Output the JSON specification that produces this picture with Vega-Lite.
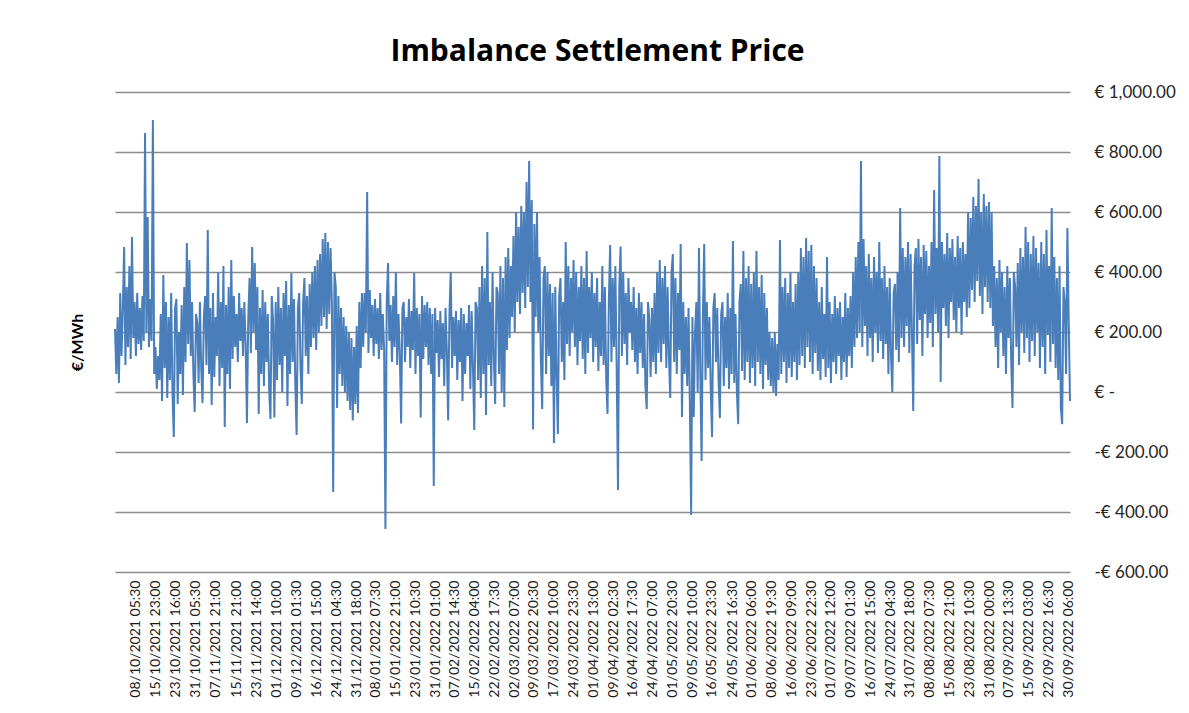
{
"$schema":"https://vega.github.io/schema/vega-lite/v6.json",
"width":955,"height":480,
"autosize":{"type":"none"},
"padding":{"left":115,"top":92,"right":119,"bottom":141},
"background":"white",
"title":{"text":"Imbalance Settlement Price","font":"Open Sans","fontSize":30,"fontWeight":"bold","color":"#000000","anchor":"middle","offset":16,"dx":5},
"config":{"view":{"stroke":null}},
"data":{"values":[
{"t":"2021-09-30T12:00","v":210},
{"t":"2021-10-01T00:00","v":60},{"t":"2021-10-01T12:00","v":250},
{"t":"2021-10-02T00:00","v":30},{"t":"2021-10-02T12:00","v":330},
{"t":"2021-10-03T00:00","v":120},{"t":"2021-10-03T12:00","v":280},
{"t":"2021-10-04T00:00","v":483},{"t":"2021-10-04T12:00","v":90},
{"t":"2021-10-05T00:00","v":350},{"t":"2021-10-05T12:00","v":150},
{"t":"2021-10-06T00:00","v":420},{"t":"2021-10-06T12:00","v":110},
{"t":"2021-10-07T00:00","v":517},{"t":"2021-10-07T12:00","v":180},
{"t":"2021-10-08T00:00","v":300},{"t":"2021-10-08T12:00","v":120},
{"t":"2021-10-09T00:00","v":330},{"t":"2021-10-09T12:00","v":160},
{"t":"2021-10-10T00:00","v":280},{"t":"2021-10-10T12:00","v":140},
{"t":"2021-10-11T00:00","v":320},{"t":"2021-10-11T12:00","v":170},
{"t":"2021-10-12T00:00","v":863},{"t":"2021-10-12T12:00","v":200},
{"t":"2021-10-13T00:00","v":583},{"t":"2021-10-13T12:00","v":150},
{"t":"2021-10-14T00:00","v":310},{"t":"2021-10-14T12:00","v":170},
{"t":"2021-10-15T00:00","v":907},{"t":"2021-10-15T12:00","v":60},
{"t":"2021-10-16T00:00","v":150},{"t":"2021-10-16T12:00","v":10},
{"t":"2021-10-17T00:00","v":120},{"t":"2021-10-17T12:00","v":40},
{"t":"2021-10-18T00:00","v":260},{"t":"2021-10-18T12:00","v":-30},
{"t":"2021-10-19T00:00","v":390},{"t":"2021-10-19T12:00","v":80},
{"t":"2021-10-20T00:00","v":300},{"t":"2021-10-20T12:00","v":-20},
{"t":"2021-10-21T00:00","v":250},{"t":"2021-10-21T12:00","v":40},
{"t":"2021-10-22T00:00","v":330},{"t":"2021-10-22T12:00","v":0},
{"t":"2021-10-23T00:00","v":-150},{"t":"2021-10-23T12:00","v":280},
{"t":"2021-10-24T00:00","v":310},{"t":"2021-10-24T12:00","v":-40},
{"t":"2021-10-25T00:00","v":200},{"t":"2021-10-25T12:00","v":60},
{"t":"2021-10-26T00:00","v":290},{"t":"2021-10-26T12:00","v":-10},
{"t":"2021-10-27T00:00","v":350},{"t":"2021-10-27T12:00","v":100},
{"t":"2021-10-28T00:00","v":497},{"t":"2021-10-28T12:00","v":160},
{"t":"2021-10-29T00:00","v":440},{"t":"2021-10-29T12:00","v":120},
{"t":"2021-10-30T00:00","v":300},{"t":"2021-10-30T12:00","v":60},
{"t":"2021-10-31T00:00","v":-67},{"t":"2021-10-31T12:00","v":260},
{"t":"2021-11-01T00:00","v":230},{"t":"2021-11-01T12:00","v":30},
{"t":"2021-11-02T00:00","v":300},{"t":"2021-11-02T12:00","v":80},
{"t":"2021-11-03T00:00","v":-37},{"t":"2021-11-03T12:00","v":250},
{"t":"2021-11-04T00:00","v":320},{"t":"2021-11-04T12:00","v":90},
{"t":"2021-11-05T00:00","v":540},{"t":"2021-11-05T12:00","v":60},
{"t":"2021-11-06T00:00","v":280},{"t":"2021-11-06T12:00","v":-43},
{"t":"2021-11-07T00:00","v":330},{"t":"2021-11-07T12:00","v":50},
{"t":"2021-11-08T00:00","v":250},{"t":"2021-11-08T12:00","v":120},
{"t":"2021-11-09T00:00","v":400},{"t":"2021-11-09T12:00","v":20},
{"t":"2021-11-10T00:00","v":300},{"t":"2021-11-10T12:00","v":80},
{"t":"2021-11-11T00:00","v":420},{"t":"2021-11-11T12:00","v":-117},
{"t":"2021-11-12T00:00","v":290},{"t":"2021-11-12T12:00","v":60},
{"t":"2021-11-13T00:00","v":350},{"t":"2021-11-13T12:00","v":10},
{"t":"2021-11-14T00:00","v":440},{"t":"2021-11-14T12:00","v":110},
{"t":"2021-11-15T00:00","v":320},{"t":"2021-11-15T12:00","v":150},
{"t":"2021-11-16T00:00","v":260},{"t":"2021-11-16T12:00","v":100},
{"t":"2021-11-17T00:00","v":330},{"t":"2021-11-17T12:00","v":170},
{"t":"2021-11-18T00:00","v":280},{"t":"2021-11-18T12:00","v":120},
{"t":"2021-11-19T00:00","v":300},{"t":"2021-11-19T12:00","v":160},
{"t":"2021-11-20T00:00","v":-103},{"t":"2021-11-20T12:00","v":250},
{"t":"2021-11-21T00:00","v":380},{"t":"2021-11-21T12:00","v":130},
{"t":"2021-11-22T00:00","v":483},{"t":"2021-11-22T12:00","v":200},
{"t":"2021-11-23T00:00","v":430},{"t":"2021-11-23T12:00","v":140},
{"t":"2021-11-24T00:00","v":350},{"t":"2021-11-24T12:00","v":-73},
{"t":"2021-11-25T00:00","v":280},{"t":"2021-11-25T12:00","v":60},
{"t":"2021-11-26T00:00","v":340},{"t":"2021-11-26T12:00","v":20},
{"t":"2021-11-27T00:00","v":300},{"t":"2021-11-27T12:00","v":100},
{"t":"2021-11-28T00:00","v":260},{"t":"2021-11-28T12:00","v":10},
{"t":"2021-11-29T00:00","v":-90},{"t":"2021-11-29T12:00","v":320},
{"t":"2021-11-30T00:00","v":240},{"t":"2021-11-30T12:00","v":-85},
{"t":"2021-12-01T00:00","v":300},{"t":"2021-12-01T12:00","v":40},
{"t":"2021-12-02T00:00","v":350},{"t":"2021-12-02T12:00","v":90},
{"t":"2021-12-03T00:00","v":280},{"t":"2021-12-03T12:00","v":0},
{"t":"2021-12-04T00:00","v":330},{"t":"2021-12-04T12:00","v":120},
{"t":"2021-12-05T00:00","v":370},{"t":"2021-12-05T12:00","v":-47},
{"t":"2021-12-06T00:00","v":290},{"t":"2021-12-06T12:00","v":60},
{"t":"2021-12-07T00:00","v":397},{"t":"2021-12-07T12:00","v":100},
{"t":"2021-12-08T00:00","v":310},{"t":"2021-12-08T12:00","v":30},
{"t":"2021-12-09T00:00","v":-143},{"t":"2021-12-09T12:00","v":280},
{"t":"2021-12-10T00:00","v":330},{"t":"2021-12-10T12:00","v":80},
{"t":"2021-12-11T00:00","v":-40},{"t":"2021-12-11T12:00","v":300},
{"t":"2021-12-12T00:00","v":380},{"t":"2021-12-12T12:00","v":120},
{"t":"2021-12-13T00:00","v":320},{"t":"2021-12-13T12:00","v":60},
{"t":"2021-12-14T00:00","v":360},{"t":"2021-12-14T12:00","v":150},
{"t":"2021-12-15T00:00","v":400},{"t":"2021-12-15T12:00","v":180},
{"t":"2021-12-16T00:00","v":420},{"t":"2021-12-16T12:00","v":140},
{"t":"2021-12-17T00:00","v":440},{"t":"2021-12-17T12:00","v":200},
{"t":"2021-12-18T00:00","v":460},{"t":"2021-12-18T12:00","v":220},
{"t":"2021-12-19T00:00","v":510},{"t":"2021-12-19T12:00","v":250},
{"t":"2021-12-20T00:00","v":530},{"t":"2021-12-20T12:00","v":210},
{"t":"2021-12-21T00:00","v":500},{"t":"2021-12-21T12:00","v":260},
{"t":"2021-12-22T00:00","v":480},{"t":"2021-12-22T12:00","v":300},
{"t":"2021-12-23T00:00","v":-333},{"t":"2021-12-23T12:00","v":400},
{"t":"2021-12-24T00:00","v":350},{"t":"2021-12-24T12:00","v":-53},
{"t":"2021-12-25T00:00","v":320},{"t":"2021-12-25T12:00","v":60},
{"t":"2021-12-26T00:00","v":280},{"t":"2021-12-26T12:00","v":20},
{"t":"2021-12-27T00:00","v":250},{"t":"2021-12-27T12:00","v":0},
{"t":"2021-12-28T00:00","v":220},{"t":"2021-12-28T12:00","v":-30},
{"t":"2021-12-29T00:00","v":200},{"t":"2021-12-29T12:00","v":-60},
{"t":"2021-12-30T00:00","v":180},{"t":"2021-12-30T12:00","v":-95},
{"t":"2021-12-31T00:00","v":150},{"t":"2021-12-31T12:00","v":-40},
{"t":"2022-01-01T00:00","v":220},{"t":"2022-01-01T12:00","v":-70},
{"t":"2022-01-02T00:00","v":300},{"t":"2022-01-02T12:00","v":80},
{"t":"2022-01-03T00:00","v":330},{"t":"2022-01-03T12:00","v":150},
{"t":"2022-01-04T00:00","v":330},{"t":"2022-01-04T12:00","v":200},
{"t":"2022-01-05T00:00","v":667},{"t":"2022-01-05T12:00","v":130},
{"t":"2022-01-06T00:00","v":340},{"t":"2022-01-06T12:00","v":180},
{"t":"2022-01-07T00:00","v":290},{"t":"2022-01-07T12:00","v":120},
{"t":"2022-01-08T00:00","v":310},{"t":"2022-01-08T12:00","v":160},
{"t":"2022-01-09T00:00","v":280},{"t":"2022-01-09T12:00","v":110},
{"t":"2022-01-10T00:00","v":330},{"t":"2022-01-10T12:00","v":140},
{"t":"2022-01-11T00:00","v":260},{"t":"2022-01-11T12:00","v":140},
{"t":"2022-01-12T00:00","v":-457},{"t":"2022-01-12T12:00","v":300},
{"t":"2022-01-13T00:00","v":430},{"t":"2022-01-13T12:00","v":170},
{"t":"2022-01-14T00:00","v":290},{"t":"2022-01-14T12:00","v":100},
{"t":"2022-01-15T00:00","v":320},{"t":"2022-01-15T12:00","v":150},
{"t":"2022-01-16T00:00","v":400},{"t":"2022-01-16T12:00","v":90},
{"t":"2022-01-17T00:00","v":260},{"t":"2022-01-17T12:00","v":130},
{"t":"2022-01-18T00:00","v":-105},{"t":"2022-01-18T12:00","v":280},
{"t":"2022-01-19T00:00","v":300},{"t":"2022-01-19T12:00","v":100},
{"t":"2022-01-20T00:00","v":250},{"t":"2022-01-20T12:00","v":150},
{"t":"2022-01-21T00:00","v":310},{"t":"2022-01-21T12:00","v":80},
{"t":"2022-01-22T00:00","v":270},{"t":"2022-01-22T12:00","v":140},
{"t":"2022-01-23T00:00","v":397},{"t":"2022-01-23T12:00","v":60},
{"t":"2022-01-24T00:00","v":280},{"t":"2022-01-24T12:00","v":120},
{"t":"2022-01-25T00:00","v":260},{"t":"2022-01-25T12:00","v":-85},
{"t":"2022-01-26T00:00","v":320},{"t":"2022-01-26T12:00","v":110},
{"t":"2022-01-27T00:00","v":290},{"t":"2022-01-27T12:00","v":150},
{"t":"2022-01-28T00:00","v":300},{"t":"2022-01-28T12:00","v":90},
{"t":"2022-01-29T00:00","v":280},{"t":"2022-01-29T12:00","v":60},
{"t":"2022-01-30T00:00","v":260},{"t":"2022-01-30T12:00","v":-313},
{"t":"2022-01-31T00:00","v":280},{"t":"2022-01-31T12:00","v":130},
{"t":"2022-02-01T00:00","v":240},{"t":"2022-02-01T12:00","v":50},
{"t":"2022-02-02T00:00","v":270},{"t":"2022-02-02T12:00","v":110},
{"t":"2022-02-03T00:00","v":230},{"t":"2022-02-03T12:00","v":20},
{"t":"2022-02-04T00:00","v":280},{"t":"2022-02-04T12:00","v":140},
{"t":"2022-02-05T00:00","v":-95},{"t":"2022-02-05T12:00","v":260},
{"t":"2022-02-06T00:00","v":400},{"t":"2022-02-06T12:00","v":80},
{"t":"2022-02-07T00:00","v":250},{"t":"2022-02-07T12:00","v":120},
{"t":"2022-02-08T00:00","v":270},{"t":"2022-02-08T12:00","v":40},
{"t":"2022-02-09T00:00","v":240},{"t":"2022-02-09T12:00","v":100},
{"t":"2022-02-10T00:00","v":280},{"t":"2022-02-10T12:00","v":-30},
{"t":"2022-02-11T00:00","v":260},{"t":"2022-02-11T12:00","v":60},
{"t":"2022-02-12T00:00","v":230},{"t":"2022-02-12T12:00","v":120},
{"t":"2022-02-13T00:00","v":290},{"t":"2022-02-13T12:00","v":10},
{"t":"2022-02-14T00:00","v":270},{"t":"2022-02-14T12:00","v":80},
{"t":"2022-02-15T00:00","v":-127},{"t":"2022-02-15T12:00","v":300},
{"t":"2022-02-16T00:00","v":280},{"t":"2022-02-16T12:00","v":40},
{"t":"2022-02-17T00:00","v":350},{"t":"2022-02-17T12:00","v":-20},
{"t":"2022-02-18T00:00","v":420},{"t":"2022-02-18T12:00","v":60},
{"t":"2022-02-19T00:00","v":380},{"t":"2022-02-19T12:00","v":-77},
{"t":"2022-02-20T00:00","v":533},{"t":"2022-02-20T12:00","v":90},
{"t":"2022-02-21T00:00","v":300},{"t":"2022-02-21T12:00","v":20},
{"t":"2022-02-22T00:00","v":400},{"t":"2022-02-22T12:00","v":110},
{"t":"2022-02-23T00:00","v":-40},{"t":"2022-02-23T12:00","v":350},
{"t":"2022-02-24T00:00","v":330},{"t":"2022-02-24T12:00","v":60},
{"t":"2022-02-25T00:00","v":420},{"t":"2022-02-25T12:00","v":0},
{"t":"2022-02-26T00:00","v":380},{"t":"2022-02-26T12:00","v":-50},
{"t":"2022-02-27T00:00","v":450},{"t":"2022-02-27T12:00","v":140},
{"t":"2022-02-28T00:00","v":480},{"t":"2022-02-28T12:00","v":180},
{"t":"2022-03-01T00:00","v":420},{"t":"2022-03-01T12:00","v":250},
{"t":"2022-03-02T00:00","v":520},{"t":"2022-03-02T12:00","v":200},
{"t":"2022-03-03T00:00","v":600},{"t":"2022-03-03T12:00","v":300},
{"t":"2022-03-04T00:00","v":550},{"t":"2022-03-04T12:00","v":260},
{"t":"2022-03-05T00:00","v":620},{"t":"2022-03-05T12:00","v":330},
{"t":"2022-03-06T00:00","v":600},{"t":"2022-03-06T12:00","v":280},
{"t":"2022-03-07T00:00","v":700},{"t":"2022-03-07T12:00","v":350},
{"t":"2022-03-08T00:00","v":770},{"t":"2022-03-08T12:00","v":300},
{"t":"2022-03-09T00:00","v":640},{"t":"2022-03-09T12:00","v":-125},
{"t":"2022-03-10T00:00","v":560},{"t":"2022-03-10T12:00","v":250},
{"t":"2022-03-11T00:00","v":600},{"t":"2022-03-11T12:00","v":200},
{"t":"2022-03-12T00:00","v":450},{"t":"2022-03-12T12:00","v":100},
{"t":"2022-03-13T00:00","v":-57},{"t":"2022-03-13T12:00","v":380},
{"t":"2022-03-14T00:00","v":420},{"t":"2022-03-14T12:00","v":60},
{"t":"2022-03-15T00:00","v":400},{"t":"2022-03-15T12:00","v":120},
{"t":"2022-03-16T00:00","v":360},{"t":"2022-03-16T12:00","v":20},
{"t":"2022-03-17T00:00","v":330},{"t":"2022-03-17T12:00","v":-170},
{"t":"2022-03-18T00:00","v":350},{"t":"2022-03-18T12:00","v":60},
{"t":"2022-03-19T00:00","v":-140},{"t":"2022-03-19T12:00","v":320},
{"t":"2022-03-20T00:00","v":380},{"t":"2022-03-20T12:00","v":100},
{"t":"2022-03-21T00:00","v":300},{"t":"2022-03-21T12:00","v":40},
{"t":"2022-03-22T00:00","v":500},{"t":"2022-03-22T12:00","v":160},
{"t":"2022-03-23T00:00","v":420},{"t":"2022-03-23T12:00","v":120},
{"t":"2022-03-24T00:00","v":380},{"t":"2022-03-24T12:00","v":200},
{"t":"2022-03-25T00:00","v":440},{"t":"2022-03-25T12:00","v":150},
{"t":"2022-03-26T00:00","v":400},{"t":"2022-03-26T12:00","v":90},
{"t":"2022-03-27T00:00","v":350},{"t":"2022-03-27T12:00","v":170},
{"t":"2022-03-28T00:00","v":420},{"t":"2022-03-28T12:00","v":110},
{"t":"2022-03-29T00:00","v":380},{"t":"2022-03-29T12:00","v":60},
{"t":"2022-03-30T00:00","v":470},{"t":"2022-03-30T12:00","v":130},
{"t":"2022-03-31T00:00","v":350},{"t":"2022-03-31T12:00","v":180},
{"t":"2022-04-01T00:00","v":400},{"t":"2022-04-01T12:00","v":100},
{"t":"2022-04-02T00:00","v":330},{"t":"2022-04-02T12:00","v":150},
{"t":"2022-04-03T00:00","v":380},{"t":"2022-04-03T12:00","v":70},
{"t":"2022-04-04T00:00","v":300},{"t":"2022-04-04T12:00","v":120},
{"t":"2022-04-05T00:00","v":420},{"t":"2022-04-05T12:00","v":90},
{"t":"2022-04-06T00:00","v":350},{"t":"2022-04-06T12:00","v":40},
{"t":"2022-04-07T00:00","v":-73},{"t":"2022-04-07T12:00","v":300},
{"t":"2022-04-08T00:00","v":490},{"t":"2022-04-08T12:00","v":100},
{"t":"2022-04-09T00:00","v":380},{"t":"2022-04-09T12:00","v":150},
{"t":"2022-04-10T00:00","v":420},{"t":"2022-04-10T12:00","v":80},
{"t":"2022-04-11T00:00","v":-327},{"t":"2022-04-11T12:00","v":350},
{"t":"2022-04-12T00:00","v":485},{"t":"2022-04-12T12:00","v":120},
{"t":"2022-04-13T00:00","v":400},{"t":"2022-04-13T12:00","v":160},
{"t":"2022-04-14T00:00","v":330},{"t":"2022-04-14T12:00","v":90},
{"t":"2022-04-15T00:00","v":380},{"t":"2022-04-15T12:00","v":200},
{"t":"2022-04-16T00:00","v":300},{"t":"2022-04-16T12:00","v":140},
{"t":"2022-04-17T00:00","v":350},{"t":"2022-04-17T12:00","v":100},
{"t":"2022-04-18T00:00","v":280},{"t":"2022-04-18T12:00","v":60},
{"t":"2022-04-19T00:00","v":330},{"t":"2022-04-19T12:00","v":130},
{"t":"2022-04-20T00:00","v":300},{"t":"2022-04-20T12:00","v":80},
{"t":"2022-04-21T00:00","v":260},{"t":"2022-04-21T12:00","v":20},
{"t":"2022-04-22T00:00","v":-57},{"t":"2022-04-22T12:00","v":300},
{"t":"2022-04-23T00:00","v":240},{"t":"2022-04-23T12:00","v":50},
{"t":"2022-04-24T00:00","v":280},{"t":"2022-04-24T12:00","v":100},
{"t":"2022-04-25T00:00","v":330},{"t":"2022-04-25T12:00","v":60},
{"t":"2022-04-26T00:00","v":400},{"t":"2022-04-26T12:00","v":130},
{"t":"2022-04-27T00:00","v":440},{"t":"2022-04-27T12:00","v":100},
{"t":"2022-04-28T00:00","v":380},{"t":"2022-04-28T12:00","v":160},
{"t":"2022-04-29T00:00","v":420},{"t":"2022-04-29T12:00","v":80},
{"t":"2022-04-30T00:00","v":350},{"t":"2022-04-30T12:00","v":120},
{"t":"2022-05-01T00:00","v":-20},{"t":"2022-05-01T12:00","v":400},
{"t":"2022-05-02T00:00","v":460},{"t":"2022-05-02T12:00","v":100},
{"t":"2022-05-03T00:00","v":380},{"t":"2022-05-03T12:00","v":60},
{"t":"2022-05-04T00:00","v":330},{"t":"2022-05-04T12:00","v":140},
{"t":"2022-05-05T00:00","v":493},{"t":"2022-05-05T12:00","v":-83},
{"t":"2022-05-06T00:00","v":300},{"t":"2022-05-06T12:00","v":60},
{"t":"2022-05-07T00:00","v":250},{"t":"2022-05-07T12:00","v":20},
{"t":"2022-05-08T00:00","v":280},{"t":"2022-05-08T12:00","v":-30},
{"t":"2022-05-09T00:00","v":-410},{"t":"2022-05-09T12:00","v":250},
{"t":"2022-05-10T00:00","v":-83},{"t":"2022-05-10T12:00","v":200},
{"t":"2022-05-11T00:00","v":300},{"t":"2022-05-11T12:00","v":0},
{"t":"2022-05-12T00:00","v":480},{"t":"2022-05-12T12:00","v":60},
{"t":"2022-05-13T00:00","v":-230},{"t":"2022-05-13T12:00","v":260},
{"t":"2022-05-14T00:00","v":493},{"t":"2022-05-14T12:00","v":40},
{"t":"2022-05-15T00:00","v":300},{"t":"2022-05-15T12:00","v":80},
{"t":"2022-05-16T00:00","v":250},{"t":"2022-05-16T12:00","v":10},
{"t":"2022-05-17T00:00","v":-150},{"t":"2022-05-17T12:00","v":280},
{"t":"2022-05-18T00:00","v":330},{"t":"2022-05-18T12:00","v":100},
{"t":"2022-05-19T00:00","v":280},{"t":"2022-05-19T12:00","v":40},
{"t":"2022-05-20T00:00","v":-87},{"t":"2022-05-20T12:00","v":260},
{"t":"2022-05-21T00:00","v":300},{"t":"2022-05-21T12:00","v":20},
{"t":"2022-05-22T00:00","v":250},{"t":"2022-05-22T12:00","v":80},
{"t":"2022-05-23T00:00","v":330},{"t":"2022-05-23T12:00","v":10},
{"t":"2022-05-24T00:00","v":280},{"t":"2022-05-24T12:00","v":60},
{"t":"2022-05-25T00:00","v":503},{"t":"2022-05-25T12:00","v":30},
{"t":"2022-05-26T00:00","v":260},{"t":"2022-05-26T12:00","v":0},
{"t":"2022-05-27T00:00","v":-107},{"t":"2022-05-27T12:00","v":300},
{"t":"2022-05-28T00:00","v":360},{"t":"2022-05-28T12:00","v":70},
{"t":"2022-05-29T00:00","v":470},{"t":"2022-05-29T12:00","v":40},
{"t":"2022-05-30T00:00","v":380},{"t":"2022-05-30T12:00","v":100},
{"t":"2022-05-31T00:00","v":420},{"t":"2022-05-31T12:00","v":30},
{"t":"2022-06-01T00:00","v":360},{"t":"2022-06-01T12:00","v":80},
{"t":"2022-06-02T00:00","v":400},{"t":"2022-06-02T12:00","v":20},
{"t":"2022-06-03T00:00","v":470},{"t":"2022-06-03T12:00","v":100},
{"t":"2022-06-04T00:00","v":350},{"t":"2022-06-04T12:00","v":60},
{"t":"2022-06-05T00:00","v":390},{"t":"2022-06-05T12:00","v":10},
{"t":"2022-06-06T00:00","v":330},{"t":"2022-06-06T12:00","v":90},
{"t":"2022-06-07T00:00","v":280},{"t":"2022-06-07T12:00","v":40},
{"t":"2022-06-08T00:00","v":200},{"t":"2022-06-08T12:00","v":20},
{"t":"2022-06-09T00:00","v":180},{"t":"2022-06-09T12:00","v":0},
{"t":"2022-06-10T00:00","v":200},{"t":"2022-06-10T12:00","v":-13},
{"t":"2022-06-11T00:00","v":160},{"t":"2022-06-11T12:00","v":40},
{"t":"2022-06-12T00:00","v":507},{"t":"2022-06-12T12:00","v":60},
{"t":"2022-06-13T00:00","v":350},{"t":"2022-06-13T12:00","v":100},
{"t":"2022-06-14T00:00","v":380},{"t":"2022-06-14T12:00","v":30},
{"t":"2022-06-15T00:00","v":330},{"t":"2022-06-15T12:00","v":80},
{"t":"2022-06-16T00:00","v":400},{"t":"2022-06-16T12:00","v":50},
{"t":"2022-06-17T00:00","v":300},{"t":"2022-06-17T12:00","v":100},
{"t":"2022-06-18T00:00","v":360},{"t":"2022-06-18T12:00","v":40},
{"t":"2022-06-19T00:00","v":400},{"t":"2022-06-19T12:00","v":90},
{"t":"2022-06-20T00:00","v":480},{"t":"2022-06-20T12:00","v":120},
{"t":"2022-06-21T00:00","v":450},{"t":"2022-06-21T12:00","v":80},
{"t":"2022-06-22T00:00","v":513},{"t":"2022-06-22T12:00","v":150},
{"t":"2022-06-23T00:00","v":470},{"t":"2022-06-23T12:00","v":100},
{"t":"2022-06-24T00:00","v":490},{"t":"2022-06-24T12:00","v":60},
{"t":"2022-06-25T00:00","v":420},{"t":"2022-06-25T12:00","v":130},
{"t":"2022-06-26T00:00","v":380},{"t":"2022-06-26T12:00","v":70},
{"t":"2022-06-27T00:00","v":300},{"t":"2022-06-27T12:00","v":40},
{"t":"2022-06-28T00:00","v":350},{"t":"2022-06-28T12:00","v":110},
{"t":"2022-06-29T00:00","v":260},{"t":"2022-06-29T12:00","v":50},
{"t":"2022-06-30T00:00","v":450},{"t":"2022-06-30T12:00","v":80},
{"t":"2022-07-01T00:00","v":300},{"t":"2022-07-01T12:00","v":30},
{"t":"2022-07-02T00:00","v":260},{"t":"2022-07-02T12:00","v":100},
{"t":"2022-07-03T00:00","v":320},{"t":"2022-07-03T12:00","v":60},
{"t":"2022-07-04T00:00","v":280},{"t":"2022-07-04T12:00","v":120},
{"t":"2022-07-05T00:00","v":300},{"t":"2022-07-05T12:00","v":40},
{"t":"2022-07-06T00:00","v":250},{"t":"2022-07-06T12:00","v":100},
{"t":"2022-07-07T00:00","v":330},{"t":"2022-07-07T12:00","v":50},
{"t":"2022-07-08T00:00","v":280},{"t":"2022-07-08T12:00","v":120},
{"t":"2022-07-09T00:00","v":320},{"t":"2022-07-09T12:00","v":80},
{"t":"2022-07-10T00:00","v":400},{"t":"2022-07-10T12:00","v":150},
{"t":"2022-07-11T00:00","v":450},{"t":"2022-07-11T12:00","v":180},
{"t":"2022-07-12T00:00","v":500},{"t":"2022-07-12T12:00","v":200},
{"t":"2022-07-13T00:00","v":770},{"t":"2022-07-13T12:00","v":150},
{"t":"2022-07-14T00:00","v":510},{"t":"2022-07-14T12:00","v":220},
{"t":"2022-07-15T00:00","v":420},{"t":"2022-07-15T12:00","v":120},
{"t":"2022-07-16T00:00","v":460},{"t":"2022-07-16T12:00","v":180},
{"t":"2022-07-17T00:00","v":380},{"t":"2022-07-17T12:00","v":100},
{"t":"2022-07-18T00:00","v":450},{"t":"2022-07-18T12:00","v":200},
{"t":"2022-07-19T00:00","v":400},{"t":"2022-07-19T12:00","v":130},
{"t":"2022-07-20T00:00","v":500},{"t":"2022-07-20T12:00","v":170},
{"t":"2022-07-21T00:00","v":380},{"t":"2022-07-21T12:00","v":110},
{"t":"2022-07-22T00:00","v":420},{"t":"2022-07-22T12:00","v":160},
{"t":"2022-07-23T00:00","v":350},{"t":"2022-07-23T12:00","v":60},
{"t":"2022-07-24T00:00","v":380},{"t":"2022-07-24T12:00","v":120},
{"t":"2022-07-25T00:00","v":0},{"t":"2022-07-25T12:00","v":330},
{"t":"2022-07-26T00:00","v":360},{"t":"2022-07-26T12:00","v":140},
{"t":"2022-07-27T00:00","v":400},{"t":"2022-07-27T12:00","v":100},
{"t":"2022-07-28T00:00","v":613},{"t":"2022-07-28T12:00","v":180},
{"t":"2022-07-29T00:00","v":480},{"t":"2022-07-29T12:00","v":150},
{"t":"2022-07-30T00:00","v":450},{"t":"2022-07-30T12:00","v":220},
{"t":"2022-07-31T00:00","v":500},{"t":"2022-07-31T12:00","v":130},
{"t":"2022-08-01T00:00","v":460},{"t":"2022-08-01T12:00","v":200},
{"t":"2022-08-02T00:00","v":-63},{"t":"2022-08-02T12:00","v":420},
{"t":"2022-08-03T00:00","v":480},{"t":"2022-08-03T12:00","v":160},
{"t":"2022-08-04T00:00","v":510},{"t":"2022-08-04T12:00","v":240},
{"t":"2022-08-05T00:00","v":450},{"t":"2022-08-05T12:00","v":120},
{"t":"2022-08-06T00:00","v":490},{"t":"2022-08-06T12:00","v":260},
{"t":"2022-08-07T00:00","v":470},{"t":"2022-08-07T12:00","v":180},
{"t":"2022-08-08T00:00","v":420},{"t":"2022-08-08T12:00","v":230},
{"t":"2022-08-09T00:00","v":500},{"t":"2022-08-09T12:00","v":150},
{"t":"2022-08-10T00:00","v":673},{"t":"2022-08-10T12:00","v":260},
{"t":"2022-08-11T00:00","v":480},{"t":"2022-08-11T12:00","v":200},
{"t":"2022-08-12T00:00","v":787},{"t":"2022-08-12T12:00","v":33},
{"t":"2022-08-13T00:00","v":500},{"t":"2022-08-13T12:00","v":280},
{"t":"2022-08-14T00:00","v":460},{"t":"2022-08-14T12:00","v":220},
{"t":"2022-08-15T00:00","v":530},{"t":"2022-08-15T12:00","v":180},
{"t":"2022-08-16T00:00","v":480},{"t":"2022-08-16T12:00","v":300},
{"t":"2022-08-17T00:00","v":510},{"t":"2022-08-17T12:00","v":240},
{"t":"2022-08-18T00:00","v":450},{"t":"2022-08-18T12:00","v":200},
{"t":"2022-08-19T00:00","v":520},{"t":"2022-08-19T12:00","v":280},
{"t":"2022-08-20T00:00","v":480},{"t":"2022-08-20T12:00","v":190},
{"t":"2022-08-21T00:00","v":500},{"t":"2022-08-21T12:00","v":300},
{"t":"2022-08-22T00:00","v":460},{"t":"2022-08-22T12:00","v":250},
{"t":"2022-08-23T00:00","v":600},{"t":"2022-08-23T12:00","v":280},
{"t":"2022-08-24T00:00","v":580},{"t":"2022-08-24T12:00","v":340},
{"t":"2022-08-25T00:00","v":650},{"t":"2022-08-25T12:00","v":300},
{"t":"2022-08-26T00:00","v":620},{"t":"2022-08-26T12:00","v":370},
{"t":"2022-08-27T00:00","v":710},{"t":"2022-08-27T12:00","v":320},
{"t":"2022-08-28T00:00","v":600},{"t":"2022-08-28T12:00","v":260},
{"t":"2022-08-29T00:00","v":660},{"t":"2022-08-29T12:00","v":350},
{"t":"2022-08-30T00:00","v":620},{"t":"2022-08-30T12:00","v":300},
{"t":"2022-08-31T00:00","v":633},{"t":"2022-08-31T12:00","v":280},
{"t":"2022-09-01T00:00","v":600},{"t":"2022-09-01T12:00","v":220},
{"t":"2022-09-02T00:00","v":420},{"t":"2022-09-02T12:00","v":150},
{"t":"2022-09-03T00:00","v":380},{"t":"2022-09-03T12:00","v":80},
{"t":"2022-09-04T00:00","v":440},{"t":"2022-09-04T12:00","v":200},
{"t":"2022-09-05T00:00","v":400},{"t":"2022-09-05T12:00","v":120},
{"t":"2022-09-06T00:00","v":350},{"t":"2022-09-06T12:00","v":60},
{"t":"2022-09-07T00:00","v":420},{"t":"2022-09-07T12:00","v":180},
{"t":"2022-09-08T00:00","v":380},{"t":"2022-09-08T12:00","v":100},
{"t":"2022-09-09T00:00","v":-53},{"t":"2022-09-09T12:00","v":400},
{"t":"2022-09-10T00:00","v":350},{"t":"2022-09-10T12:00","v":150},
{"t":"2022-09-11T00:00","v":430},{"t":"2022-09-11T12:00","v":90},
{"t":"2022-09-12T00:00","v":480},{"t":"2022-09-12T12:00","v":200},
{"t":"2022-09-13T00:00","v":450},{"t":"2022-09-13T12:00","v":130},
{"t":"2022-09-14T00:00","v":550},{"t":"2022-09-14T12:00","v":180},
{"t":"2022-09-15T00:00","v":500},{"t":"2022-09-15T12:00","v":100},
{"t":"2022-09-16T00:00","v":460},{"t":"2022-09-16T12:00","v":170},
{"t":"2022-09-17T00:00","v":520},{"t":"2022-09-17T12:00","v":120},
{"t":"2022-09-18T00:00","v":480},{"t":"2022-09-18T12:00","v":200},
{"t":"2022-09-19T00:00","v":430},{"t":"2022-09-19T12:00","v":80},
{"t":"2022-09-20T00:00","v":500},{"t":"2022-09-20T12:00","v":150},
{"t":"2022-09-21T00:00","v":460},{"t":"2022-09-21T12:00","v":60},
{"t":"2022-09-22T00:00","v":540},{"t":"2022-09-22T12:00","v":190},
{"t":"2022-09-23T00:00","v":420},{"t":"2022-09-23T12:00","v":100},
{"t":"2022-09-24T00:00","v":613},{"t":"2022-09-24T12:00","v":160},
{"t":"2022-09-25T00:00","v":450},{"t":"2022-09-25T12:00","v":80},
{"t":"2022-09-26T00:00","v":380},{"t":"2022-09-26T12:00","v":40},
{"t":"2022-09-27T00:00","v":420},{"t":"2022-09-27T12:00","v":-53},
{"t":"2022-09-28T00:00","v":-107},{"t":"2022-09-28T12:00","v":350},
{"t":"2022-09-29T00:00","v":300},{"t":"2022-09-29T12:00","v":60},
{"t":"2022-09-30T00:00","v":547},{"t":"2022-09-30T12:00","v":240},
{"t":"2022-10-01T00:00","v":-30}
]},
"layer":[
{"mark":{"type":"line","color":"#4a7ebb","strokeWidth":2},
 "encoding":{
  "x":{"field":"t","type":"temporal",
   "scale":{"domain":[{"year":2021,"month":9,"date":30,"hours":12},{"year":2022,"month":10,"date":1}],"nice":false},
   "axis":{"title":null,"grid":false,"ticks":false,"domain":false,"labelAngle":270,"labelAlign":"right","labelBaseline":"middle","labelPadding":8,"labelFont":"Lato","labelFontSize":14,"labelColor":"#1a1a1a","labelOverlap":false,"labelFlush":false,"labelBound":false,
    "labelExpr":"timeFormat(datum.value, '%d/%m/%Y %H:%M')",
    "values":[
     {"year":2021,"month":10,"date":8,"hours":5,"minutes":30},
     {"year":2021,"month":10,"date":15,"hours":23,"minutes":0},
     {"year":2021,"month":10,"date":23,"hours":16,"minutes":0},
     {"year":2021,"month":10,"date":31,"hours":5,"minutes":30},
     {"year":2021,"month":11,"date":7,"hours":21,"minutes":0},
     {"year":2021,"month":11,"date":15,"hours":21,"minutes":0},
     {"year":2021,"month":11,"date":23,"hours":14,"minutes":0},
     {"year":2021,"month":12,"date":1,"hours":10,"minutes":0},
     {"year":2021,"month":12,"date":9,"hours":1,"minutes":30},
     {"year":2021,"month":12,"date":16,"hours":15,"minutes":0},
     {"year":2021,"month":12,"date":24,"hours":4,"minutes":30},
     {"year":2021,"month":12,"date":31,"hours":18,"minutes":0},
     {"year":2022,"month":1,"date":8,"hours":7,"minutes":30},
     {"year":2022,"month":1,"date":15,"hours":21,"minutes":0},
     {"year":2022,"month":1,"date":23,"hours":10,"minutes":30},
     {"year":2022,"month":1,"date":31,"hours":1,"minutes":0},
     {"year":2022,"month":2,"date":7,"hours":14,"minutes":30},
     {"year":2022,"month":2,"date":15,"hours":4,"minutes":0},
     {"year":2022,"month":2,"date":22,"hours":17,"minutes":30},
     {"year":2022,"month":3,"date":2,"hours":7,"minutes":0},
     {"year":2022,"month":3,"date":9,"hours":20,"minutes":30},
     {"year":2022,"month":3,"date":17,"hours":10,"minutes":0},
     {"year":2022,"month":3,"date":24,"hours":23,"minutes":30},
     {"year":2022,"month":4,"date":1,"hours":13,"minutes":0},
     {"year":2022,"month":4,"date":9,"hours":2,"minutes":30},
     {"year":2022,"month":4,"date":16,"hours":17,"minutes":30},
     {"year":2022,"month":4,"date":24,"hours":7,"minutes":0},
     {"year":2022,"month":5,"date":1,"hours":20,"minutes":30},
     {"year":2022,"month":5,"date":9,"hours":10,"minutes":0},
     {"year":2022,"month":5,"date":16,"hours":23,"minutes":30},
     {"year":2022,"month":5,"date":24,"hours":16,"minutes":30},
     {"year":2022,"month":6,"date":1,"hours":6,"minutes":0},
     {"year":2022,"month":6,"date":8,"hours":19,"minutes":30},
     {"year":2022,"month":6,"date":16,"hours":9,"minutes":0},
     {"year":2022,"month":6,"date":23,"hours":22,"minutes":30},
     {"year":2022,"month":7,"date":1,"hours":12,"minutes":0},
     {"year":2022,"month":7,"date":9,"hours":1,"minutes":30},
     {"year":2022,"month":7,"date":16,"hours":15,"minutes":0},
     {"year":2022,"month":7,"date":24,"hours":4,"minutes":30},
     {"year":2022,"month":7,"date":31,"hours":18,"minutes":0},
     {"year":2022,"month":8,"date":8,"hours":7,"minutes":30},
     {"year":2022,"month":8,"date":15,"hours":21,"minutes":0},
     {"year":2022,"month":8,"date":23,"hours":10,"minutes":30},
     {"year":2022,"month":8,"date":31,"hours":0,"minutes":0},
     {"year":2022,"month":9,"date":7,"hours":13,"minutes":30},
     {"year":2022,"month":9,"date":15,"hours":3,"minutes":0},
     {"year":2022,"month":9,"date":22,"hours":16,"minutes":30},
     {"year":2022,"month":9,"date":30,"hours":6,"minutes":0}
    ]}},
  "y":{"field":"v","type":"quantitative",
   "scale":{"domain":[-600,1000],"nice":false,"zero":false},
   "axis":{"orient":"right","title":null,"values":[-600,-400,-200,0,200,400,600,800,1000],"grid":true,"gridColor":"#8c8c8c","gridWidth":1.3,"domain":false,"ticks":false,"labelPadding":24,"labelFont":"Lato","labelFontSize":17,"labelColor":"#262626",
    "labelExpr":"datum.value == 0 ? '€ -' : (datum.value < 0 ? '-€ ' + format(-datum.value, ',.2f') : '€ ' + format(datum.value, ',.2f'))"}}
 }},
{"data":{"values":[{"k":1}]},
 "mark":{"type":"rule","opacity":0},
 "encoding":{
  "y":{"datum":0,"type":"quantitative",
   "axis":{"orient":"left","title":"€/MWh","labels":false,"ticks":false,"domain":false,"grid":false,"titleFont":"Lato","titleFontSize":16,"titleFontWeight":"bold","titleColor":"#000000","titlePadding":30,"titleY":250}}
 }}
],
"resolve":{"axis":{"y":"independent"}}
}
